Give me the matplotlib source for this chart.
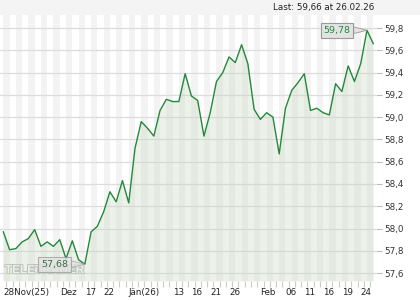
import matplotlib
matplotlib.use("Agg")
import matplotlib.pyplot as plt
import matplotlib.patheffects as pe
from matplotlib.patches import Rectangle

# ---- data ----
dates = (["28.11"] +
         [f"{d:02d}.12" for d in [1, 2, 3, 4, 5, 8, 9, 10, 11, 12, 15, 16, 17, 18, 19, 22, 23, 29, 30]] +
         [f"{d:02d}.01" for d in [2, 5, 6, 7, 8, 9, 12, 13, 14, 15, 16, 19, 20, 21, 22, 23, 26, 27, 28, 29, 30]] +
         [f"{d:02d}.02" for d in [2, 3, 4, 5, 6, 9, 10, 11, 12, 13, 16, 17, 18, 19, 20, 23, 24, 25, 26]])
prices = [57.97, 57.81, 57.82, 57.88, 57.91, 57.99, 57.84, 57.88, 57.84, 57.90,
          57.73, 57.89, 57.72, 57.68, 57.97, 58.02, 58.15, 58.33, 58.24, 58.43,
          58.23, 58.72, 58.96, 58.90, 58.83, 59.06, 59.16, 59.14, 59.14, 59.39,
          59.19, 59.15, 58.83, 59.04, 59.32, 59.40, 59.54, 59.49, 59.65, 59.48,
          59.07, 58.98, 59.04, 59.00, 58.67, 59.08, 59.24, 59.31, 59.39, 59.06,
          59.08, 59.04, 59.02, 59.30, 59.23, 59.46, 59.32, 59.48, 59.78, 59.66]
tick_dates = ["28.11", "11.12", "17.12", "22.12", "02.01", "13.01", "16.01", "21.01",
              "26.01", "02.02", "06.02", "11.02", "16.02", "19.02", "24.02"]
tick_labels = ["28Nov(25)", "Dez", "17", "22", "Jän(26)", "13", "16", "21",
               "26", "Feb", "06", "11", "16", "19", "24"]
y_ticks = [57.6, 57.8, 58.0, 58.2, 58.4, 58.6, 58.8, 59.0, 59.2, 59.4, 59.6, 59.8]
last_text = "Last: 59,66 at 26.02.26"
watermark = "TELETRADER"

# ---- figure ----
W, H = 420, 300
fig = plt.figure(figsize=(W / 100, H / 100), dpi=100)
fig.patch.set_facecolor("white")
fig.patches.append(Rectangle((0, (H - 15) / H), 1, 15 / H, transform=fig.transFigure,
                             facecolor="#f4f4f4", edgecolor="none", zorder=0))

ax = fig.add_axes([0, 19 / H, 376 / W, 266 / H])
ax.set_facecolor("white")
x = list(range(len(prices)))
n = len(prices)

# stripes
for k in range(0, n, 2):
    ax.axvspan(k, k + 1, color="#f3f3f3", lw=0, zorder=0)

# grid
for yt in y_ticks:
    ax.axhline(yt, color="#dcdcdc", lw=0.9, zorder=1)

# watermark
ax.text(0.013, 0.018, watermark, transform=ax.transAxes, fontsize=8.5,
        fontweight="bold", family="Liberation Sans", color="white", zorder=2,
        ha="left", va="bottom",
        path_effects=[pe.withStroke(linewidth=1.4, foreground="#b8b8b8")])

ymin, ymax = 57.529, 59.917
ax.fill_between(x, prices, ymin, color="#c6d7c0", alpha=0.32, lw=0, zorder=3)
ax.plot(x, prices, color="#23883a", lw=1.0, zorder=4)

ax.set_xlim(-0.53, 59.44)
ax.set_ylim(ymin, ymax)

for s in ax.spines.values():
    s.set_visible(False)

# y ticks on right
ax.yaxis.tick_right()
ax.set_yticks(y_ticks)
ax.set_yticklabels([f"{v:.1f}".replace(".", ",") for v in y_ticks],
                   fontsize=6.3, color="#333333", family="DejaVu Sans")
ax.tick_params(axis="y", length=4, width=0.8, color="#bbbbbb", pad=2)

# x ticks
tick_pos = [dates.index(d) for d in tick_dates]
ax.set_xticks(tick_pos)
ax.set_xticklabels(tick_labels, fontsize=6.3, color="#222222", family="DejaVu Sans",
                   ha="left")
ax.tick_params(axis="x", length=0, pad=5)
ax.set_xticks([k + 0.5 for k in range(n - 1)], minor=True)
ax.tick_params(axis="x", which="minor", length=4, width=0.8, color="#cccccc")

# annotations for max / min
imax = prices.index(max(prices))
imin = prices.index(min(prices))
for idx, tc, alpha in [(imax, "#23883a", 1.0), (imin, "#3d6b45", 0.75)]:
    ax.annotate(f"{prices[idx]:.2f}".replace(".", ","), xy=(idx, prices[idx]),
                xytext=(-30, 0), textcoords="offset pixels", ha="center", va="center",
                fontsize=6.8, color=tc, zorder=6,
                bbox=dict(boxstyle="square,pad=0.3", fc="#e3e3e3", ec="#9a9a9a",
                          lw=0.8, alpha=alpha),
                arrowprops=dict(arrowstyle="wedge,tail_width=0.7,shrink_factor=0.5",
                                fc="#e3e3e3", ec="#9a9a9a", lw=0.6, alpha=alpha,
                                shrinkA=0, shrinkB=0))

fig.text(374 / W, 1 - 7.5 / H, last_text, ha="right", va="center", fontsize=6.3,
         color="#222222", family="DejaVu Sans")

fig.savefig("out.png", dpi=100)
